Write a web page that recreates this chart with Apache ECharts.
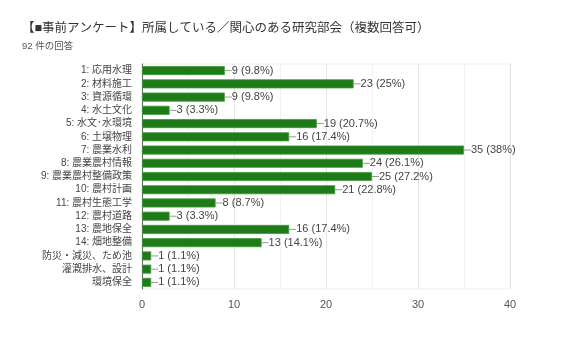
<!DOCTYPE html>
<html><head><meta charset="utf-8">
<script src="https://cdn.jsdelivr.net/npm/echarts@6/dist/echarts.min.js"></script>
<style>html,body{margin:0;padding:0;background:#fff}#c{width:567px;height:347px}</style>
</head><body><div id="c"></div>
<script>
const categories = ['1: 応用水理','2: 材料施工','3: 資源循環','4: 水土文化','5: 水文･水環境','6: 土壌物理','7: 農業水利','8: 農業農村情報','9: 農業農村整備政策','10: 農村計画','11: 農村生態工学','12: 農村道路','13: 農地保全','14: 畑地整備','防災・減災、ため池','灌漑排水、設計','環境保全'];
const counts = [9,23,9,3,19,16,35,24,25,21,8,3,16,13,1,1,1];
const percents = ['9.8%','25%','9.8%','3.3%','20.7%','17.4%','38%','26.1%','27.2%','22.8%','8.7%','3.3%','17.4%','14.1%','1.1%','1.1%','1.1%'];
const xTicks = [0,10,20,30,40];

const FONT = '"Liberation Sans", Arial, "Noto Sans CJK JP", sans-serif';
const chart = echarts.init(document.getElementById('c'));
chart.setOption({
  animation:false,
  title:{text:'【■事前アンケート】所属している／関心のある研究部会（複数回答可）',
    subtext:'92 件の回答', left:17, top:17, itemGap:7,
    textStyle:{fontFamily:FONT,fontSize:12.5,fontWeight:'normal',color:'#333'},
    subtextStyle:{fontFamily:FONT,fontSize:9.5,color:'#555'}},
  grid:{left:142,right:57,top:64,bottom:58,containLabel:false,show:true,borderColor:'#eeeeee',borderWidth:1},
  xAxis:{type:'value',min:0,max:40,interval:10,
    axisLine:{show:false},axisTick:{show:false},
    axisLabel:{fontFamily:FONT,fontSize:11,color:'#555',margin:10,
      formatter:v=>xTicks.includes(v)?String(v):''},
    splitLine:{show:true,lineStyle:{color:'#e6e6e6',width:1}},
    minorTick:{show:false,splitNumber:2},
    minorSplitLine:{show:true,lineStyle:{color:'#f2f2f2',width:1}}},
  yAxis:{type:'category',data:categories,inverse:true,
    axisLine:{show:true,lineStyle:{color:'#666',width:1}},
    axisTick:{show:false},
    axisLabel:{interval:0,fontFamily:FONT,fontSize:10,color:'#444',margin:10},
    splitLine:{show:false}},
  series:[{type:'bar',data:counts,barCategoryGap:'32%',
    itemStyle:{color:'#1f7a1a',borderColor:'#3f9a36',borderWidth:0.8},
    label:{show:true,position:'right',distance:0,
      formatter:p=>'{l|}'+p.value+' ('+percents[p.dataIndex]+')',
      fontFamily:FONT,fontSize:11,color:'#444',
      rich:{l:{width:7,height:1,backgroundColor:'#999',verticalAlign:'middle'}}}}]
});
</script></body></html>
